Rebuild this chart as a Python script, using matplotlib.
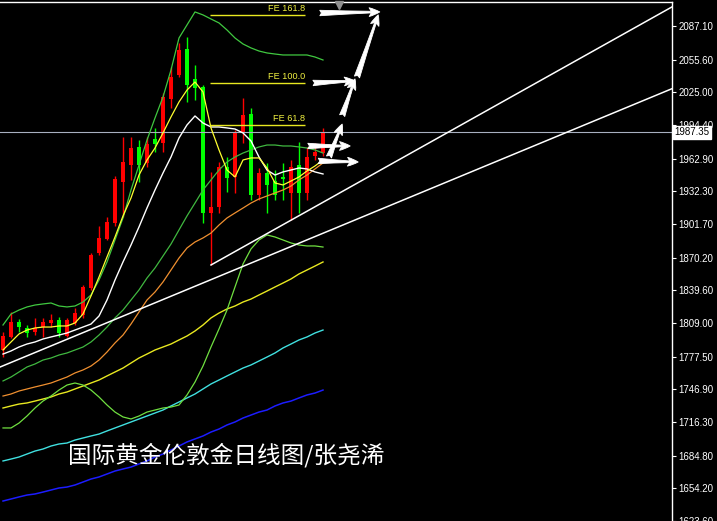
import matplotlib
matplotlib.use("Agg")
import matplotlib.pyplot as plt
import matplotlib.transforms as mtransforms

# daily candles (red = up, green = down)
opens = [1783.7, 1795.9, 1809.9, 1804.3, 1800.5, 1805.2, 1809.0, 1811.8, 1796.8, 1809.0,
         1816.5, 1841.7, 1874.5, 1887.6, 1902.6, 1941.0, 1956.9, 1973.8, 1958.8, 1981.3,
         1977.5, 2018.7, 2041.2, 2065.5, 2037.4, 2029.9, 1912.0, 1917.6, 1955.0, 1945.7,
         1986.9, 2004.7, 1928.8, 1949.4, 1941.9, 1945.7, 1930.7, 1956.9, 1930.7, 1965.3, 1968.1]
closes = [1796.8, 1809.9, 1805.2, 1799.6, 1804.3, 1809.9, 1811.8, 1799.6, 1811.8, 1818.3,
          1842.7, 1872.6, 1888.6, 1903.5, 1943.8, 1959.7, 1972.8, 1956.9, 1976.6, 1976.6,
          2020.6, 2039.3, 2064.6, 2031.8, 2029.0, 1912.0, 1917.6, 1955.0, 1944.7, 1986.9,
          2003.7, 1928.8, 1949.4, 1938.2, 1928.8, 1943.8, 1955.0, 1930.7, 1964.4, 1969.1, 1987.35]
highs = [1800.5, 1819.3, 1812.7, 1807.1, 1813.7, 1813.7, 1817.4, 1814.6, 1813.7, 1823.0,
         1844.6, 1874.5, 1899.8, 1908.2, 1946.6, 1983.1, 1983.1, 1980.3, 1983.1, 1991.6,
         2024.3, 2048.7, 2071.1, 2076.8, 2050.5, 2031.8, 1950.4, 1959.7, 1964.4, 1989.7,
         2019.6, 2010.3, 1954.1, 1958.8, 1952.2, 1958.8, 1961.6, 1978.4, 1973.8, 1977.5, 1991.6]
lows = [1777.1, 1794.9, 1800.5, 1795.9, 1797.7, 1795.9, 1805.2, 1795.9, 1795.9, 1807.1,
        1813.7, 1839.9, 1872.6, 1886.7, 1899.8, 1908.2, 1942.9, 1941.0, 1955.0, 1969.1,
        1969.1, 2010.3, 2039.3, 2015.9, 2017.8, 1902.6, 1863.3, 1912.0, 1931.6, 1930.7,
        1977.5, 1924.1, 1924.1, 1912.0, 1924.1, 1924.1, 1905.4, 1912.0, 1924.1, 1961.6, 1965.3]

# moving averages / bands, one value per candle
ma_fast = [1783.7, 1791.2, 1798.7, 1802.4, 1804.3, 1805.2, 1805.2, 1806.2, 1806.2, 1809.0,
           1817.4, 1834.3, 1852.0, 1870.8, 1889.5, 1909.2, 1926.0, 1947.5, 1961.6, 1972.8,
           1986.9, 2001.9, 2015.9, 2027.1, 2034.6, 2025.3, 1991.6, 1971.0, 1952.2, 1945.7,
           1961.6, 1963.5, 1963.5, 1954.1, 1940.1, 1938.2, 1941.9, 1945.7, 1951.3, 1956.0, 1961.6]
ma_white = [1779.9, 1782.8, 1786.5, 1789.3, 1791.2, 1794.0, 1795.9, 1797.7, 1799.6, 1802.4,
            1805.2, 1808.0, 1815.5, 1830.5, 1849.2, 1866.1, 1882.0, 1898.9, 1916.7, 1933.5,
            1949.4, 1964.4, 1982.2, 1994.4, 2002.8, 1996.2, 1992.5, 1992.5, 1991.6, 1990.6,
            1986.9, 1979.4, 1964.4, 1952.2, 1947.5, 1950.4, 1952.2, 1954.1, 1953.2, 1950.4, 1948.5]
bb_upper = [1807.1, 1817.4, 1821.1, 1824.0, 1825.8, 1826.8, 1827.7, 1824.9, 1824.0, 1824.9,
            1828.6, 1835.2, 1849.2, 1866.1, 1886.7, 1907.3, 1933.5, 1956.9, 1980.3, 2000.9,
            2020.6, 2045.9, 2075.8, 2088.0, 2100.2, 2097.4, 2093.6, 2089.9, 2083.3, 2075.8,
            2070.2, 2066.5, 2063.6, 2061.8, 2060.8, 2059.9, 2059.9, 2059.9, 2059.9, 2058.0, 2055.2]
bb_mid = [1754.7, 1758.4, 1763.1, 1767.8, 1770.6, 1774.3, 1776.2, 1779.0, 1780.9, 1783.7,
          1786.5, 1791.2, 1797.7, 1805.2, 1813.7, 1821.1, 1830.5, 1839.9, 1851.1, 1860.5,
          1871.7, 1882.9, 1896.1, 1909.2, 1921.3, 1933.5, 1942.9, 1952.2, 1959.7, 1964.4,
          1968.1, 1971.0, 1973.8, 1975.6, 1975.6, 1974.7, 1974.7, 1973.8, 1972.8, 1971.0, 1968.1]
bb_lower = [1710.7, 1710.7, 1715.3, 1721.9, 1729.4, 1735.9, 1740.6, 1746.2, 1750.9, 1752.8,
            1750.9, 1746.2, 1739.7, 1732.2, 1725.6, 1721.0, 1719.1, 1721.9, 1725.6, 1727.5,
            1729.4, 1730.3, 1732.2, 1741.6, 1753.7, 1768.7, 1786.5, 1803.4, 1821.1, 1842.7,
            1864.2, 1878.3, 1886.7, 1891.4, 1889.5, 1886.7, 1883.9, 1882.0, 1881.1, 1881.1, 1880.1]
ma_orange = [1740.6, 1742.5, 1745.3, 1747.2, 1749.1, 1750.9, 1752.8, 1755.6, 1758.4, 1762.2,
             1765.0, 1768.7, 1774.3, 1781.8, 1790.3, 1797.7, 1808.0, 1819.3, 1830.5, 1838.0,
             1847.4, 1858.6, 1869.8, 1879.2, 1884.8, 1888.6, 1893.2, 1900.7, 1907.3, 1912.0,
             1916.6, 1921.3, 1925.1, 1927.9, 1930.7, 1933.5, 1937.2, 1942.9, 1947.5, 1953.2, 1958.8]
ma_slow = [1729.4, 1731.3, 1733.1, 1734.1, 1735.9, 1737.8, 1739.7, 1742.5, 1744.4, 1747.2,
           1750.0, 1752.8, 1755.6, 1759.4, 1763.1, 1766.8, 1771.5, 1776.2, 1779.9, 1783.7,
           1786.5, 1789.3, 1793.1, 1796.8, 1801.5, 1807.1, 1813.7, 1818.3, 1822.1, 1824.9,
           1828.6, 1831.4, 1835.2, 1838.9, 1842.7, 1846.4, 1850.2, 1854.9, 1858.6, 1862.3, 1866.1]
ma_cyan = [1679.8, 1681.6, 1683.5, 1686.3, 1689.1, 1691.0, 1693.8, 1695.7, 1696.6, 1699.4,
           1701.3, 1703.2, 1705.0, 1707.9, 1710.7, 1713.5, 1716.3, 1719.1, 1721.9, 1724.7,
           1727.5, 1731.3, 1735.0, 1738.8, 1742.5, 1747.2, 1751.9, 1755.6, 1759.4, 1763.1,
           1766.8, 1769.7, 1773.4, 1777.1, 1780.9, 1785.6, 1789.3, 1793.1, 1795.9, 1799.6, 1802.4]
ma_blue = [1642.3, 1644.2, 1646.1, 1647.9, 1648.9, 1650.7, 1652.6, 1654.5, 1655.4, 1657.3,
           1660.1, 1662.9, 1664.8, 1667.6, 1670.4, 1672.3, 1674.1, 1677.0, 1679.8, 1683.5,
           1686.3, 1690.1, 1693.8, 1697.6, 1700.4, 1703.2, 1706.9, 1709.7, 1713.5, 1716.3,
           1720.0, 1722.8, 1725.6, 1727.5, 1731.3, 1734.1, 1735.9, 1738.8, 1741.6, 1743.4, 1746.2]

# trend lines: two anchor points each (bar index, price)
trend_a = [(0, 1768.9), (40, 1893.0)]
trend_b = [(26, 1863.3), (40, 1922.0)]

fe_levels = [2097.4, 2033.7, 1993.9]
fe_labels = ["FE 161.8", "FE 100.0", "FE 61.8"]
fe_span = (25.9, 37.75)

last_price = 1987.35
tick_vals = [2087.10, 2055.60, 2025.00, 1994.40, 1962.90, 1932.30, 1901.70, 1870.20,
             1839.60, 1809.00, 1777.50, 1746.90, 1716.30, 1684.80, 1654.20, 1623.60]

# hand-drawn projection arrows (tail, head)
arrows = [((39.6, 2099.2), (47.1, 2100.2)),
          ((44.25, 2039.3), (46.9, 2097.5)),
          ((38.75, 2033.7), (44.0, 2035.6)),
          ((42.4, 2003.1), (44.0, 2037.5)),
          ((40.75, 1964.4), (42.4, 1995.2)),
          ((38.1, 1974.7), (43.4, 1974.7)),
          ((39.4, 1960.7), (44.4, 1959.7))]

title = "国际黄金伦敦金日线图/张尧浠"

fig = plt.figure(figsize=(7.17, 5.21), dpi=100, facecolor="black")
ax = fig.add_axes([0, 0, 672 / 717, 519 / 521], facecolor="black")
ax.set_xlim(-0.375, 83.625)
ax.set_ylim(1623.6, 2109.5)

# candles
for i in range(len(opens)):
    o, c = opens[i], closes[i]
    col = "#ff0000" if c >= o else "#00ff00"
    ax.vlines(i, lows[i], highs[i], color=col, lw=1, zorder=2)
    ax.bar(i, abs(c - o) if abs(c - o) > 0.8 else 0.8, 0.62, bottom=min(o, c), color=col,
           zorder=2, linewidth=0)

xs = list(range(len(opens)))
ax.plot(xs, ma_blue, color="#1c1cff", lw=1.1, zorder=3)
ax.plot(xs, ma_cyan, color="#40e0e0", lw=1.0, zorder=3)
ax.plot(xs, ma_slow, color="#e8e820", lw=1.0, zorder=3)
ax.plot(xs, ma_orange, color="#f09030", lw=0.9, zorder=3)
ax.plot(xs, bb_lower, color="#70e040", lw=0.9, zorder=3)
ax.plot(xs, bb_mid, color="#40b840", lw=0.9, zorder=3)
ax.plot(xs, bb_upper, color="#40c840", lw=0.9, zorder=3)
ax.plot(xs, ma_white, color="white", lw=1.0, zorder=3)
ax.plot(xs, ma_fast, color="#ffff30", lw=0.9, zorder=3)

# trend lines
ax.axline(trend_a[0], trend_a[1], color="white", lw=1.1, zorder=3)
(x0, y0), (x1, y1) = trend_b
slope = (y1 - y0) / (x1 - x0)
ax.plot([x0, 84], [y0, y0 + slope * (84 - x0)], color="white", lw=1.1, zorder=3)

# fibonacci expansion levels
ax.hlines(fe_levels, fe_span[0], fe_span[1], color="#e8e820", lw=1, zorder=3)
for lvl, lab in zip(fe_levels, fe_labels):
    ax.annotate(lab, (fe_span[1], lvl), xytext=(0, 1.5), textcoords="offset points",
                ha="right", va="bottom", color="#f0f040", fontsize=6.6,
                family="Liberation Sans")

# last price line
ax.axhline(last_price, color="#a8b0c0", lw=0.8, zorder=2.5)

for tail, head in arrows:
    ax.annotate("", xy=head, xytext=tail, annotation_clip=False,
                arrowprops=dict(arrowstyle="fancy,head_length=0.55,head_width=0.45,tail_width=0.28",
                                fc="white", ec="white", lw=0.6, mutation_scale=14,
                                shrinkA=0, shrinkB=0), zorder=4)

# chart shift marker
ax.plot(42, 2107.0, marker="v", color="#909090", ms=6, clip_on=False, zorder=4)

# axis styling
for s in ["left", "bottom"]:
    ax.spines[s].set_visible(False)
for s in ["top", "right"]:
    ax.spines[s].set_color("white")
    ax.spines[s].set_linewidth(1)
ax.set_xticks([])
ax.yaxis.tick_right()
ax.set_yticks(tick_vals)
ax.set_yticklabels(["%.2f" % v for v in tick_vals])
ax.tick_params(axis="y", colors="white", length=3, width=0.8, pad=1.5, labelsize=7)
for lab in ax.get_yticklabels():
    lab.set_family("Liberation Sans")

trans = mtransforms.blended_transform_factory(ax.transAxes, ax.transData)
ax.text(1.0035, last_price, "%.2f" % last_price, transform=trans, ha="left", va="center",
        fontsize=7, color="black", family="Liberation Sans", zorder=6, clip_on=False,
        bbox=dict(boxstyle="square,pad=0.18", fc="white", ec="white"))

fig.text(68 / 717, 1 - 455 / 521, title, color="white", fontsize=17, va="center",
         family=["Noto Sans CJK SC", "DejaVu Sans"])

fig.savefig("out.png", dpi=100, facecolor="black")
